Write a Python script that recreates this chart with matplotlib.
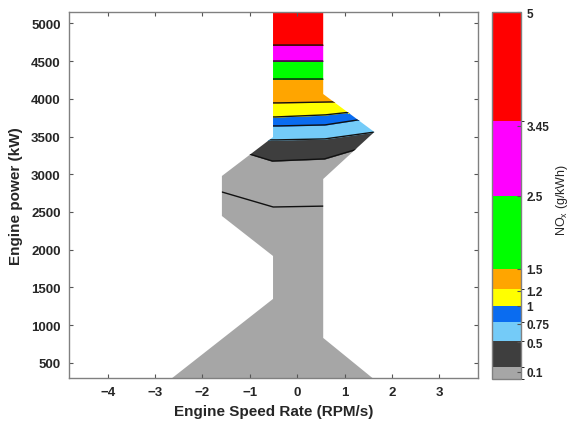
import numpy as np
import matplotlib
matplotlib.use("Agg")
import matplotlib.pyplot as plt
from matplotlib.patches import Polygon
from matplotlib.colors import ListedColormap, BoundaryNorm
from matplotlib.cm import ScalarMappable

plt.rcParams['font.family'] = ['Liberation Sans', 'DejaVu Sans']

# ---- data ----
# outer boundary of the mapped region (left side bottom->top, right side top->bottom)
left_x = [-2.64, -0.51, -0.51, -1.59, -1.59, -0.51, -0.51]
left_y = [300, 1348, 1917, 2447, 2977, 3493, 5150]
right_x = [0.55, 0.55, 1.63, 0.55, 0.55, 1.59]
right_y = [5150, 4063, 3560, 2937, 831, 300]

# contour lines (band boundaries), bottom to top
c_gray_dark_x = [-1.01, -0.53, 0.57, 1.25]
c_gray_dark_y = [3268, 3175, 3202, 3330]
c_dark_lblue_x = [-0.55, 0.57, 1.63]
c_dark_lblue_y = [3454, 3467, 3560]
c_lblue_blue_x = [-0.51, 0.57, 1.27]
c_lblue_blue_y = [3639, 3652, 3720]
c_blue_yellow_x = [-0.51, 0.57, 1.06]
c_blue_yellow_y = [3758, 3785, 3820]
c_yellow_orange_x = [-0.51, 0.76]
c_yellow_orange_y = [3944, 3960]
c_orange_green_x = [-0.51, 0.55]
c_orange_green_y = [4262, 4262]
c_green_magenta_x = [-0.51, 0.55]
c_green_magenta_y = [4500, 4500]
c_magenta_red_x = [-0.51, 0.55]
c_magenta_red_y = [4712, 4712]
# contour line inside the gray band
c_gray_inner_x = [-1.59, -0.51, 0.55]
c_gray_inner_y = [2765, 2566, 2579]

band_colors = ['#a6a6a6', '#3e3e3e', '#74cbf8', '#0a6cf0', '#ffff00',
               '#ffa500', '#00ff00', '#ff00ff', '#ff0000']
nox_bounds = [0, 0.17, 0.52, 0.77, 1.0, 1.22, 1.5, 2.5, 3.52, 5]
nox_ticks = [0.1, 0.5, 0.75, 1, 1.2, 1.5, 2.5, 3.45, 5]
nox_ticklabels = ['0.1', '0.5', '0.75', '1', '1.2', '1.5', '2.5', '3.45', '5']

x_ticks = [-4, -3, -2, -1, 0, 1, 2, 3]
y_ticks = [500, 1000, 1500, 2000, 2500, 3000, 3500, 4000, 4500, 5000]
x_lim = (-4.82, 3.82)
y_lim = (300, 5150)

# ---- figure ----
W, H = 576, 427
fig = plt.figure(figsize=(W / 100, H / 100), dpi=100)
ax = fig.add_axes([69 / W, 1 - 379 / H, (478 - 69) / W, (379 - 13) / H])
cax = fig.add_axes([492 / W, 1 - 380 / H, 29 / W, 367 / H])

outer = Polygon(list(zip(left_x + right_x, left_y + right_y)), closed=True,
                facecolor='none', edgecolor='none', transform=ax.transData)
ax.add_patch(outer)

lines_x = [c_gray_dark_x, c_dark_lblue_x, c_lblue_blue_x, c_blue_yellow_x,
           c_yellow_orange_x, c_orange_green_x, c_green_magenta_x, c_magenta_red_x]
lines_y = [c_gray_dark_y, c_dark_lblue_y, c_lblue_blue_y, c_blue_yellow_y,
           c_yellow_orange_y, c_orange_green_y, c_green_magenta_y, c_magenta_red_y]

xs = np.linspace(x_lim[0], x_lim[1], 2000)
curves = [np.full_like(xs, y_lim[0])]
for lx, ly in zip(lines_x, lines_y):
    curves.append(np.interp(xs, lx, ly))
curves.append(np.full_like(xs, y_lim[1]))

for i, col in enumerate(band_colors):
    lo = curves[i]
    hi = np.maximum(curves[i + 1], lo)
    f = ax.fill_between(xs, lo, hi, facecolor=col, edgecolor=col, linewidth=0.3)
    f.set_clip_path(outer)

for lx, ly in list(zip(lines_x, lines_y)) + [(c_gray_inner_x, c_gray_inner_y)]:
    yy = np.interp(xs, lx, ly)
    ln, = ax.plot(xs, yy, color='#111111', linewidth=1.0)
    ln.set_clip_path(outer)

ax.set_xlim(*x_lim)
ax.set_ylim(*y_lim)
ax.set_xticks(x_ticks)
ax.set_yticks(y_ticks)
ax.tick_params(direction='in', length=3, width=0.8, color='#555555',
               top=True, right=True, labelsize=9.5, labelcolor='#262626', pad=6)
for lab in ax.get_xticklabels() + ax.get_yticklabels():
    lab.set_fontweight('bold')
for sp in ax.spines.values():
    sp.set_color('#808080')
    sp.set_linewidth(1.0)
ax.set_xlabel('Engine Speed Rate (RPM/s)', fontsize=11, fontweight='bold',
              color='#262626', labelpad=4)
ax.set_ylabel('Engine power (kW)', fontsize=11, fontweight='bold',
              color='#262626', labelpad=6)

cmap = ListedColormap(band_colors)
norm = BoundaryNorm(nox_bounds, cmap.N)
cb = fig.colorbar(ScalarMappable(norm=norm, cmap=cmap), cax=cax,
                  spacing='proportional', ticks=nox_ticks)
cb.ax.set_yticklabels(nox_ticklabels)
cb.ax.tick_params(direction='in', length=3, width=0.8, color='#555555',
                  labelsize=8.5, labelcolor='#262626', pad=4)
for lab in cb.ax.get_yticklabels():
    lab.set_fontweight('bold')
cb.outline.set_edgecolor('#808080')
cb.outline.set_linewidth(1.0)
fig.text(562 / W, 1 - 200 / H, r'NO$_{\mathregular{x}}$ (g/kWh)', rotation=90,
         ha='center', va='center', fontsize=9, color='#262626')

fig.savefig('out.png', dpi=100, facecolor='white')
